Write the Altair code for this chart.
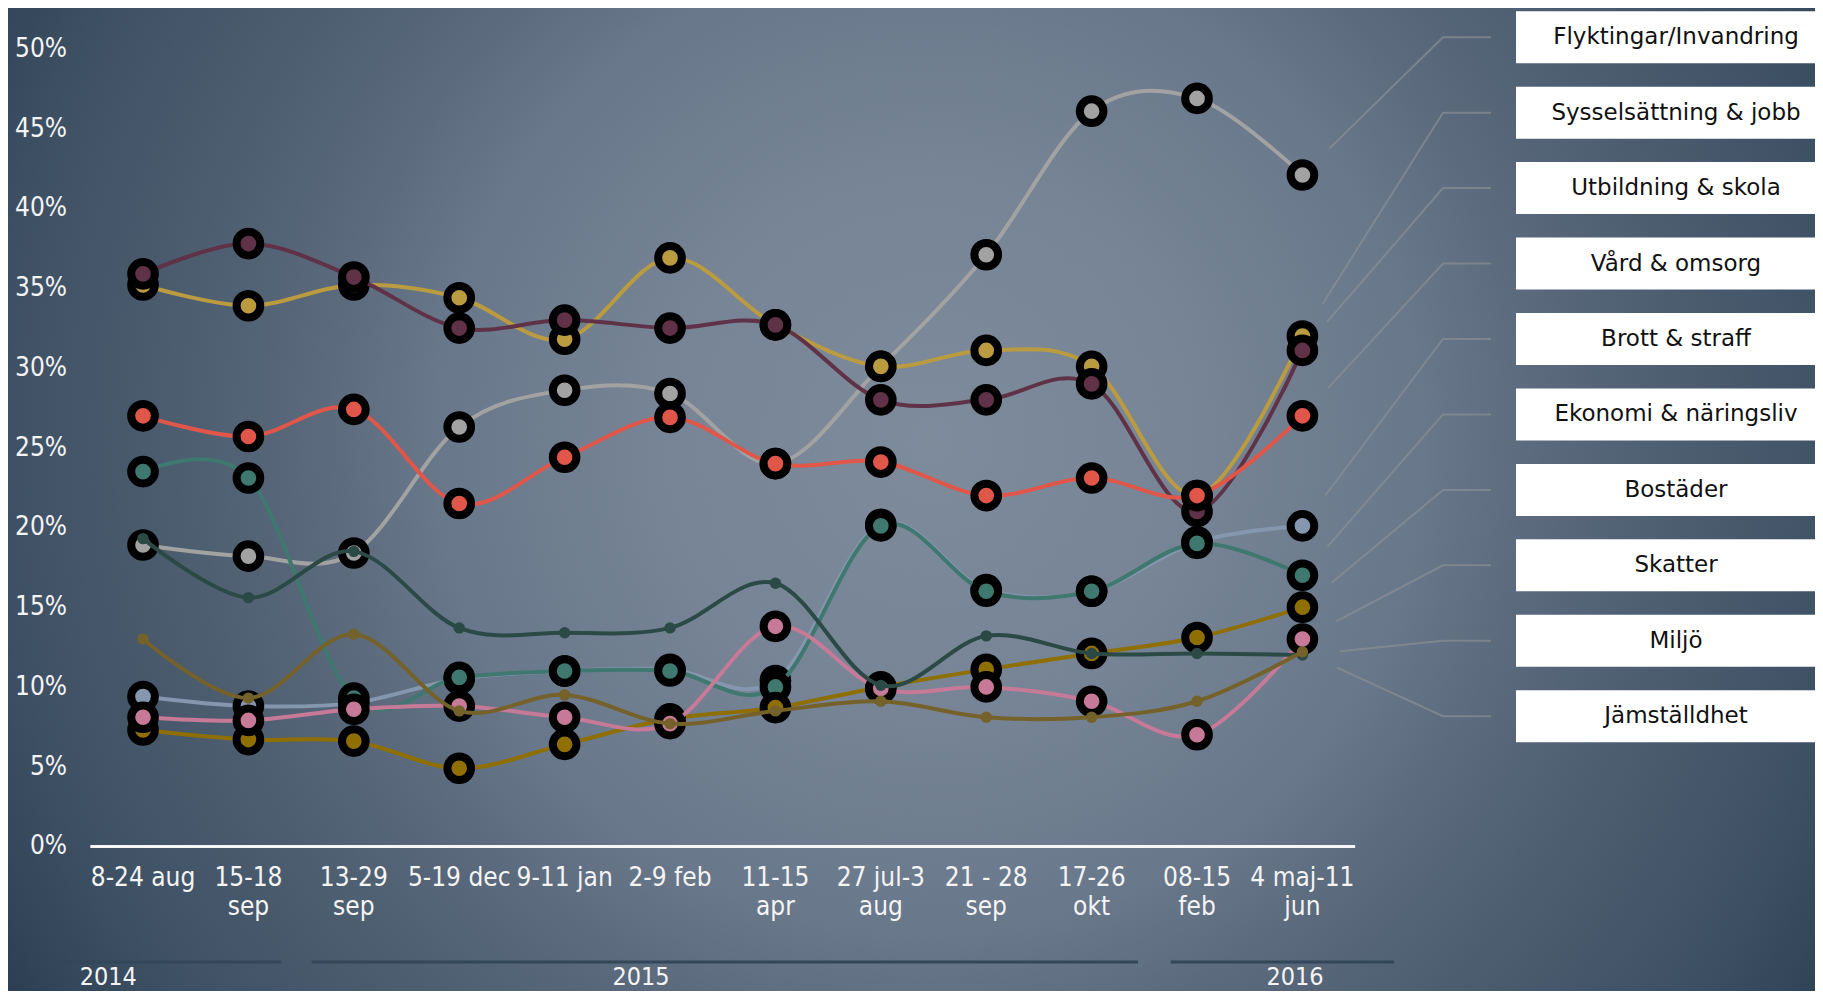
import json
import math
import altair as alt
import pandas as pd

# ---------------- data ----------------
categories = ["8-24 aug", "15-18\nsep", "13-29\nsep", "5-19 dec", "9-11 jan", "2-9 feb",
              "11-15\napr", "27 jul-3\naug", "21 - 28\nsep", "17-26\nokt", "08-15\nfeb", "4 maj-11\njun"]

series_names = ["Flyktingar/Invandring", "Sysselsättning & jobb", "Utbildning & skola",
                "Vård & omsorg", "Brott & straff", "Ekonomi & näringsliv", "Bostäder",
                "Skatter", "Miljö", "Jämställdhet"]
series_colors = ["#a2a2a2", "#bb9b40", "#5f3247", "#e0574a", "#8497ae", "#3e786e",
                 "#8f6f00", "#c77a97", "#2b4a45", "#75622a"]
big_marker = [True, True, True, True, True, True, True, True, False, False]

flyktingar = [18.9, 18.2, 18.4, 26.3, 28.6, 28.4, 24.0, 30.1, 37.1, 46.1, 46.9, 42.1]
sysselsattning = [35.2, 33.9, 35.2, 34.4, 31.8, 36.9, 32.7, 30.1, 31.1, 30.1, 22.0, 32.0]
utbildning = [35.9, 37.8, 35.7, 32.5, 33.0, 32.5, 32.7, 28.0, 28.0, 29.0, 21.0, 31.1]
vard = [27.0, 25.7, 27.4, 21.5, 24.4, 26.9, 24.0, 24.1, 22.0, 23.1, 22.0, 27.0]
brott = [9.4, 8.8, 9.0, 10.5, 11.0, 11.1, 10.4, 20.2, 16.1, 16.0, 19.1, 20.1]
ekonomi = [23.5, 23.1, 9.3, 10.6, 11.0, 11.0, 10.0, 20.1, 16.0, 16.0, 19.0, 17.0]
bostader = [7.3, 6.7, 6.6, 4.9, 6.4, 8.0, 8.7, 10.0, 11.1, 12.1, 13.1, 15.0]
skatter = [8.1, 7.9, 8.6, 8.8, 8.1, 7.7, 13.8, 9.9, 10.0, 9.1, 7.0, 13.0]
miljo = [19.3, 15.6, 18.5, 13.7, 13.4, 13.7, 16.5, 10.1, 13.2, 12.1, 12.1, 12.0]
jamstalldhet = [13.0, 9.3, 13.3, 8.5, 9.5, 7.7, 8.5, 9.1, 8.1, 8.1, 9.1, 12.2]

series_values = [flyktingar, sysselsattning, utbildning, vard, brott, ekonomi,
                 bostader, skatter, miljo, jamstalldhet]

year_labels = ["2014", "2015", "2016"]
year_first = [0, 2, 10]
year_last = [1, 9, 11]

y_ticks = [0, 5, 10, 15, 20, 25, 30, 35, 40, 45, 50]

# ---------------- layout ----------------
W, H = 1807, 983
X_DOMAIN = [-1.281, 15.863]
Y_DOMAIN = [-9.066, 52.57]
PX_X = W / (X_DOMAIN[1] - X_DOMAIN[0])
PX_Y = H / (Y_DOMAIN[1] - Y_DOMAIN[0])


def x_to_px(v):
    return (v - X_DOMAIN[0]) * PX_X


def y_to_px(v):
    return H - (v - Y_DOMAIN[0]) * PX_Y


def px_to_x(p):
    return p / PX_X + X_DOMAIN[0]


def px_to_y(p):
    return (H - p) / PX_Y + Y_DOMAIN[0]


xs = alt.Scale(domain=X_DOMAIN, nice=False, zero=False)
ys = alt.Scale(domain=Y_DOMAIN, nice=False, zero=False)

LABEL_FONT = "DejaVu Sans Condensed, Roboto, sans-serif"
LEGEND_FONT = "DejaVu Sans, sans-serif"
LABEL_COLOR = "#f4f4f4"

# long table of series
rows = []
for s, vals in zip(series_names, series_values):
    for i, v in enumerate(vals):
        rows.append({"series": s, "idx": i, "value": v})
df = pd.DataFrame(rows)

# ---------------- background (radial gradient) ----------------
GC_X, GC_Y, GR = 922, 434, 1100
bg = alt.Chart(pd.DataFrame({"k": [0]})).mark_rect(
    fill={
        "gradient": "radial",
        "x1": 0.5, "y1": 0.5, "r1": 0,
        "x2": 0.5, "y2": 0.5, "r2": 0.5,
        "stops": [
            {"offset": 0.0, "color": "#7d8b9b"},
            {"offset": 0.25, "color": "#768495"},
            {"offset": 0.45, "color": "#68778a"},
            {"offset": 0.55, "color": "#5b6a7c"},
            {"offset": 0.70, "color": "#4b5c6f"},
            {"offset": 0.845, "color": "#3e5064"},
            {"offset": 0.94, "color": "#324458"},
            {"offset": 1.0, "color": "#283a4d"},
        ],
    }
).encode(x=alt.value(GC_X - GR), x2=alt.value(GC_X + GR),
         y=alt.value(GC_Y - GR), y2=alt.value(GC_Y + GR))

# ---------------- baseline ----------------
base_df = pd.DataFrame({"x0": [-0.5], "x1": [len(categories) - 0.5], "y": [0]})
baseline = alt.Chart(base_df).mark_rule(color="#f6f6f6", strokeWidth=3).encode(
    x=alt.X("x0:Q", scale=xs, axis=None),
    x2="x1:Q",
    y=alt.Y("y:Q", scale=ys, axis=None),
)

# ---------------- tick labels ----------------
xlab_df = pd.DataFrame({"idx": list(range(len(categories))), "label": categories})
x_labels = alt.Chart(xlab_df).mark_text(
    font=LABEL_FONT, fontSize=26, color=LABEL_COLOR, align="center", baseline="middle",
    lineBreak="\n", lineHeight=29,
).encode(x=alt.X("idx:Q", scale=xs, axis=None), y=alt.value(870), text="label:N")

ylab_df = pd.DataFrame({"v": y_ticks, "label": [f"{t}%" for t in y_ticks]})
y_labels = alt.Chart(ylab_df).mark_text(
    font=LABEL_FONT, fontSize=26, color=LABEL_COLOR, align="right", baseline="middle",
).encode(x=alt.value(59), y=alt.Y("v:Q", scale=ys, axis=None), text="label:N")

# ---------------- year band ----------------
year_df = pd.DataFrame({
    "label": year_labels,
    "start": [year_first[0] - 0.81, year_first[1] - 0.40, year_first[2] - 0.25],
    "end": [year_last[0] + 0.31, year_last[1] + 0.44, year_last[2] + 0.87],
    "lx": [year_first[0] - 0.33, 4.725, year_last[2] - 0.07],
})
year_rules = alt.Chart(year_df).mark_rule(color="#33465a", strokeWidth=3).encode(
    x=alt.X("start:Q", scale=xs, axis=None), x2="end:Q", y=alt.value(954))
year_text = alt.Chart(year_df).mark_text(
    font=LABEL_FONT, fontSize=25, color=LABEL_COLOR, baseline="bottom", align="center"
).encode(x=alt.X("lx:Q", scale=xs, axis=None), y=alt.value(982), text="label:N")

# ---------------- connectors & legend ----------------
LEG_TOP, LEG_STEP, LEG_HALF = 29.2, 75.45, 26
ELBOW_PX, END_PX = 1435, 1483
conn_rows = []
leg_rows = []
last_idx = len(categories) - 1
for k, (s, vals) in enumerate(zip(series_names, series_values)):
    px0, py0 = x_to_px(last_idx), y_to_px(vals[-1])
    ey = LEG_TOP + LEG_STEP * k
    dx, dy = ELBOW_PX - px0, ey - py0
    L = math.hypot(dx, dy)
    sx, sy = px0 + 38 * dx / L, py0 + 38 * dy / L
    conn_rows += [
        {"series": s, "step": 0, "x": px_to_x(sx), "y": px_to_y(sy)},
        {"series": s, "step": 1, "x": px_to_x(ELBOW_PX), "y": px_to_y(ey)},
        {"series": s, "step": 2, "x": px_to_x(END_PX), "y": px_to_y(ey)},
    ]
    leg_rows.append({"series": s, "x0": px_to_x(1508), "x1": X_DOMAIN[1] + 1,
                     "xt": px_to_x(1668), "yc": px_to_y(ey),
                     "yt": px_to_y(ey - LEG_HALF), "yb": px_to_y(ey + LEG_HALF)})
conn_df = pd.DataFrame(conn_rows)
leg_df = pd.DataFrame(leg_rows)

connectors = alt.Chart(conn_df).mark_line(color="#8d9094", strokeWidth=2, opacity=0.65).encode(
    x=alt.X("x:Q", scale=xs, axis=None),
    y=alt.Y("y:Q", scale=ys, axis=None),
    detail="series:N",
    order="step:Q",
)

legend_rect = alt.Chart(leg_df).mark_rect(color="white").encode(
    x=alt.X("x0:Q", scale=xs, axis=None), x2="x1:Q",
    y=alt.Y("yt:Q", scale=ys, axis=None), y2="yb:Q")
legend_text = alt.Chart(leg_df).mark_text(
    font=LEGEND_FONT, fontSize=23, color="#111111", align="center", baseline="middle"
).encode(x=alt.X("xt:Q", scale=xs, axis=None), y=alt.Y("yc:Q", scale=ys, axis=None),
         text="series:N")

# ---------------- series ----------------
series_layers = []
for s, col, big in zip(series_names, series_colors, big_marker):
    base = alt.Chart(df).transform_filter(alt.datum.series == s).encode(
        x=alt.X("idx:Q", scale=xs, axis=None),
        y=alt.Y("value:Q", scale=ys, axis=None),
    )
    line = base.mark_line(interpolate="cardinal", strokeWidth=4, color=col)
    if big:
        pts = base.mark_circle(size=560, color=col, opacity=1, stroke="black", strokeWidth=8)
    else:
        pts = base.mark_circle(size=130, color=col, opacity=1)
    series_layers += [line, pts]

chart = alt.layer(
    bg, baseline, x_labels, y_labels, year_rules, year_text, connectors,
    *series_layers, legend_rect, legend_text
).properties(
    width=W, height=H, padding=0, autosize=alt.AutoSizeParams(type="none"),
    background="#2c3e50",
).configure_view(stroke=None)

chart.save("out.html", embed_options={"renderer": "svg", "actions": False})
